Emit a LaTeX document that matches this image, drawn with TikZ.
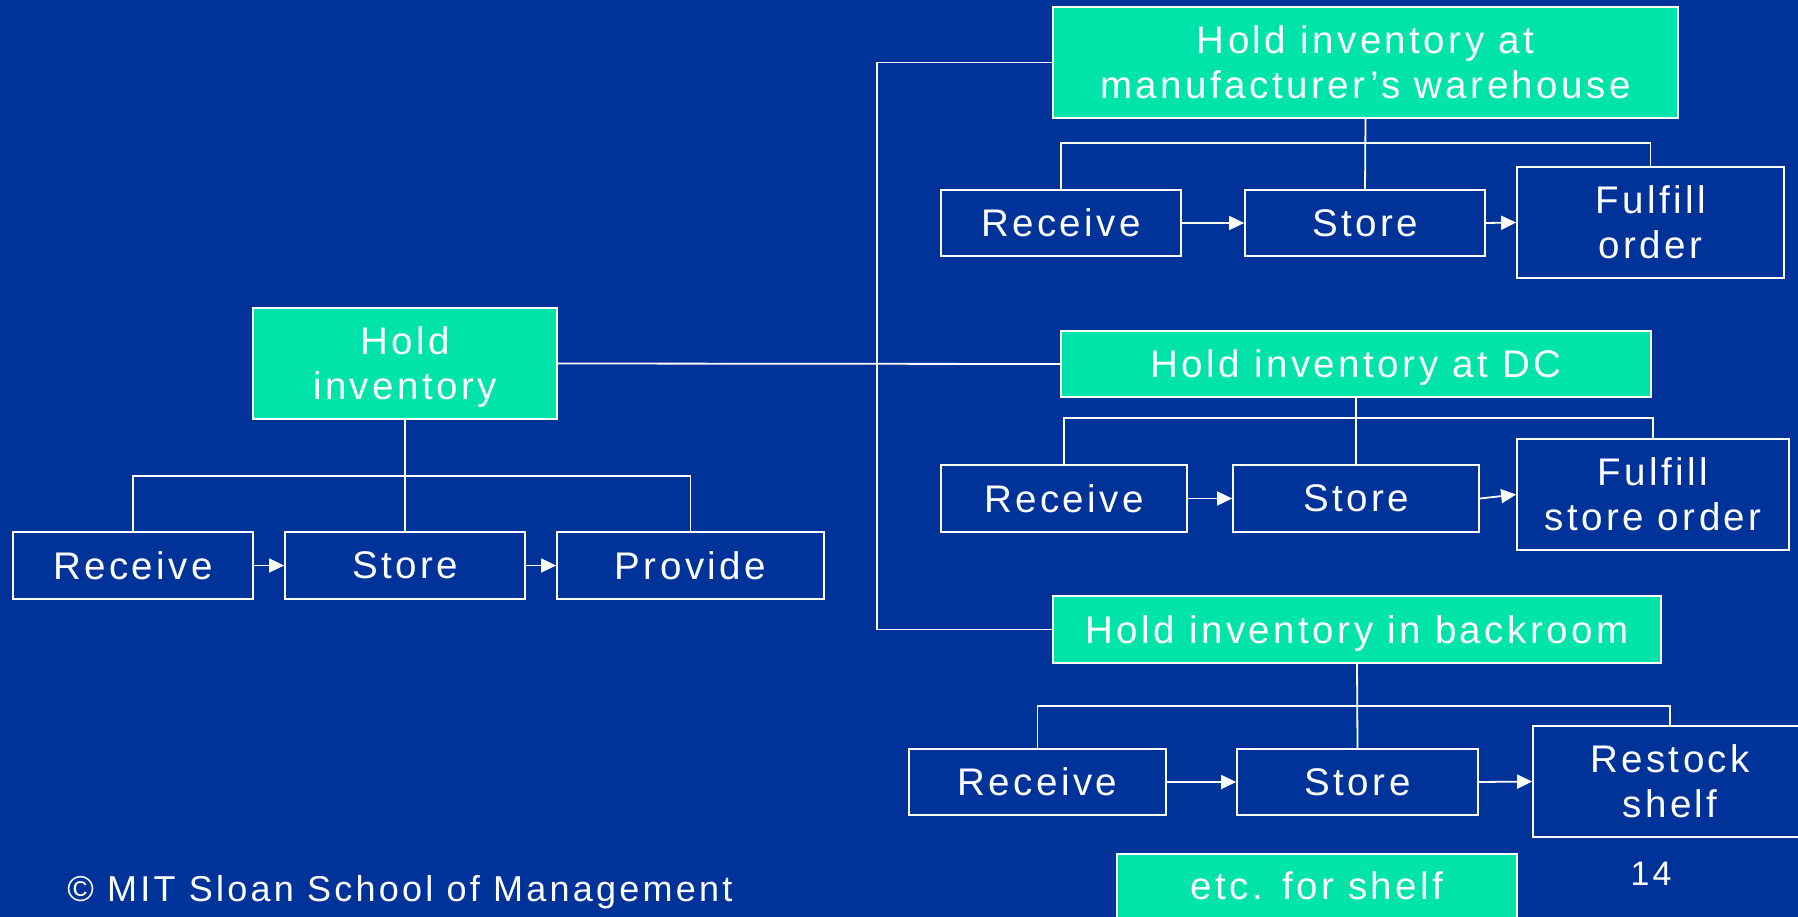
\documentclass[tikz,border=0pt]{standalone}
\usepackage{fontspec}
\setmainfont{Liberation Sans}[LetterSpace=9]
\usetikzlibrary{arrows.meta}
\definecolor{bgblue}{RGB}{0,51,153}
\definecolor{mint}{RGB}{0,228,170}
\begin{document}
\begin{tikzpicture}[x=1pt,y=-1pt,
  every node/.style={text=white, font=\fontsize{38.5}{45}\selectfont, align=center, inner sep=0pt},
  gbox/.style={draw=white, fill=mint, line width=1.8pt},
  dbox/.style={draw=white, line width=1.8pt},
  wire/.style={draw=white, line width=1.8pt},
  arr/.style={wire, -{Triangle[length=15pt,width=14pt]}}]
\fill[bgblue] (0,0) rectangle (1798,917);
\useasboundingbox (0,0) rectangle (1798,917);
\clip (0,0) rectangle (1798,917);

% left tree
\node[gbox, text depth=0pt, minimum width=304pt, minimum height=111pt] (H) at (405,363.5) {Hold\\inventory};
\node[dbox, minimum width=240pt, minimum height=67pt] (R0) at (133,565.5) {Receive};
\node[dbox, minimum width=240pt, minimum height=67pt] (S0) at (405,565.5) {Store};
\node[dbox, minimum width=267pt, minimum height=67pt] (P0) at (690.5,565.5) {Provide};
\coordinate (hb) at (405,476);
\draw[wire] (H.south) -- (S0.north);
\draw[wire] (R0.north) |- (hb) -| (P0.north);
\draw[arr] (R0.east) -- (S0.west);
\draw[arr] (S0.east) -- (P0.west);

% manufacturer's warehouse
\node[gbox, minimum width=625pt, minimum height=111pt] (MW) at (1365.5,62.5) {Hold inventory at\\manufacturer’s warehouse};
\node[dbox, minimum width=240pt, minimum height=66pt] (R1) at (1061,223) {Receive};
\node[dbox, minimum width=240pt, minimum height=66pt] (S1) at (1365,223) {Store};
\node[dbox, minimum width=267pt, minimum height=111pt] (F1) at (1650.5,222.5) {Fulfill\\order};
\coordinate (mb) at (1365,143);
\draw[wire] (MW.south) -- (S1.north);
\draw[wire] (R1.north) |- (mb) -| (F1.north);
\draw[arr] (R1.east) -- (S1.west);
\draw[arr] (S1.east) -- (F1.west);

% DC
\node[gbox, text depth=0pt, minimum width=590pt, minimum height=66pt] (DC) at (1356,364) {Hold inventory at DC};
\node[dbox, minimum width=246pt, minimum height=67pt] (R2) at (1064,498.5) {Receive};
\node[dbox, minimum width=246pt, minimum height=67pt] (S2) at (1356,498.5) {Store};
\node[dbox, minimum width=272pt, minimum height=111pt] (F2) at (1653,494.5) {Fulfill\\store order};
\coordinate (db) at (1356,418);
\draw[wire] (DC.south) -- (S2.north);
\draw[wire] (R2.north) |- (db) -| (F2.north);
\draw[arr] (R2.east) -- (S2.west);
\draw[arr] (S2.east) -- (F2.west);

% backroom
\node[gbox, text depth=0pt, minimum width=608pt, minimum height=67pt] (BR) at (1357,629.5) {Hold inventory in backroom};
\node[dbox, minimum width=257pt, minimum height=66pt] (R3) at (1037.5,782) {Receive};
\node[dbox, minimum width=241pt, minimum height=66pt] (S3) at (1357.5,782) {Store};
\node[dbox, minimum width=274pt, minimum height=111pt] (F3) at (1670,781.5) {Restock\\shelf};
\coordinate (bb) at (1357,706);
\draw[wire] (BR.south) -- (S3.north);
\draw[wire] (R3.north) |- (bb) -| (F3.north);
\draw[arr] (R3.east) -- (S3.west);
\draw[arr] (S3.east) -- (F3.west);

% trunk
\coordinate (sp) at (877,363.5);
\draw[wire] (H.east) -- (DC.west);
\draw[wire] (MW.west) -| (sp) |- (BR.west);

% footer
\node[gbox, minimum width=400pt, minimum height=64pt] (ETC) at (1317,886) {etc. for shelf};
\node[font=\fontsize{34}{40}\selectfont, anchor=base] (PG) at (1651,885) {14};
\node[font=\fontsize{36}{42}\selectfont, anchor=base] (CR) at (400,901) {© MIT Sloan School of Management};
\end{tikzpicture}
\end{document}
